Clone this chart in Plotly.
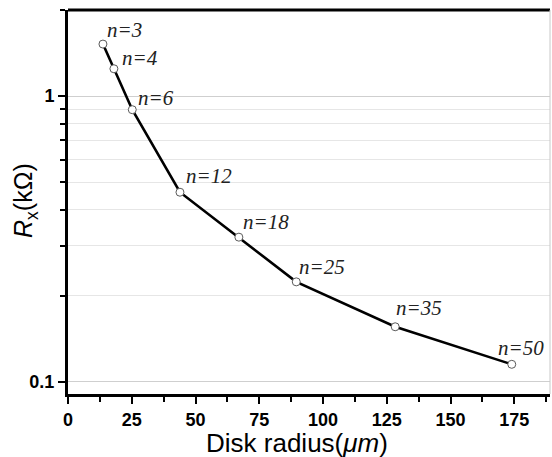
import math
import plotly.graph_objects as go

# Data
radius_um = [13.7, 18.0, 25.2, 43.9, 67.0, 89.5, 128.3, 174.0]
rx_kohm = [1.52, 1.246, 0.896, 0.461, 0.321, 0.224, 0.156, 0.1153]
n_labels = ["n=3", "n=4", "n=6", "n=12", "n=18", "n=25", "n=35", "n=50"]
x_ticks = [0, 25, 50, 75, 100, 125, 150, 175]
y_major = [0.1, 1]
y_minor = [0.2, 0.3, 0.4, 0.5, 0.6, 0.7, 0.8, 0.9, 2]

# label offsets in pixels (style)
label_dx = [2, 6, 4, 4, 2, 1, -1, -16]
label_dy = [0, -3, -2, 2, 1, 1, 5, 2]

fig = go.Figure()
fig.add_trace(go.Scatter(
    x=radius_um, y=rx_kohm, mode="lines+markers",
    line=dict(color="black", width=2.6),
    marker=dict(symbol="circle", size=8, color="white",
                line=dict(color="#5a5a5a", width=1)),
    showlegend=False, hoverinfo="x+y",
))

for xv, yv, lab, dx, dy in zip(radius_um, rx_kohm, n_labels, label_dx, label_dy):
    fig.add_annotation(
        x=xv, y=math.log10(yv), xref="x", yref="y", yanchor="bottom", xanchor="left",
        text="<i>" + lab + "</i>", showarrow=False, xshift=dx, yshift=dy,
        font=dict(family="Liberation Serif, Times New Roman, serif", size=21, color="#222"),
    )

tickfont = dict(family="Liberation Sans, Arial, sans-serif", size=18, color="black")

fig.update_xaxes(
    range=[0, 189], tickmode="array", tickvals=x_ticks,
    ticktext=["<b>%d</b>" % v for v in x_ticks],
    ticks="outside", ticklen=7, tickwidth=2, tickcolor="black",
    showline=True, linecolor="black", linewidth=3, showgrid=False, zeroline=False,
    tickfont=tickfont,
    minor=dict(tickmode="array", tickvals=[12.5 + 25 * i for i in range(8)],
               ticks="outside", ticklen=5, tickwidth=2, tickcolor="black", showgrid=False),
)
fig.update_yaxes(
    type="log", range=[-1.042, 0.301], tickmode="array", tickvals=y_major,
    ticktext=["<b>0.1</b>", "<b>1</b>"],
    ticks="outside", ticklen=7, tickwidth=2, tickcolor="black",
    showline=True, linecolor="black", linewidth=3,
    showgrid=True, gridcolor="#cfcfcf", gridwidth=1, zeroline=False,
    tickfont=tickfont,
    minor=dict(tickmode="array", tickvals=y_minor, ticks="outside", ticklen=5,
               tickwidth=2, tickcolor="black", showgrid=True, gridcolor="#e6e6e6", gridwidth=1),
)

# top (black) and right (light gray) frame lines
fig.add_shape(type="line", xref="paper", yref="paper", x0=0, x1=1, y0=1, y1=1,
              line=dict(color="black", width=3))
fig.add_shape(type="line", xref="paper", yref="paper", x0=1, x1=1, y0=0, y1=1,
              line=dict(color="#c8c8c8", width=1))

# axis titles
fig.add_annotation(
    xref="paper", yref="paper", x=0.476, y=-0.128, xanchor="center", yanchor="middle",
    text="Disk radius(<i>\u03bcm</i>)", showarrow=False,
    font=dict(family="Liberation Sans, Arial, sans-serif", size=26, color="black"),
)
fig.add_annotation(
    xref="paper", yref="paper", x=-0.089, y=0.503, xanchor="center", yanchor="middle",
    text="<i>R</i><sub>x</sub>(k\u03a9)", showarrow=False, textangle=-90,
    font=dict(family="Liberation Sans, Arial, sans-serif", size=25, color="black"),
)

fig.update_layout(
    width=552, height=457,
    margin=dict(l=68, r=2, t=10, b=63),
    plot_bgcolor="white", paper_bgcolor="white",
)

fig.write_html("out.html")
